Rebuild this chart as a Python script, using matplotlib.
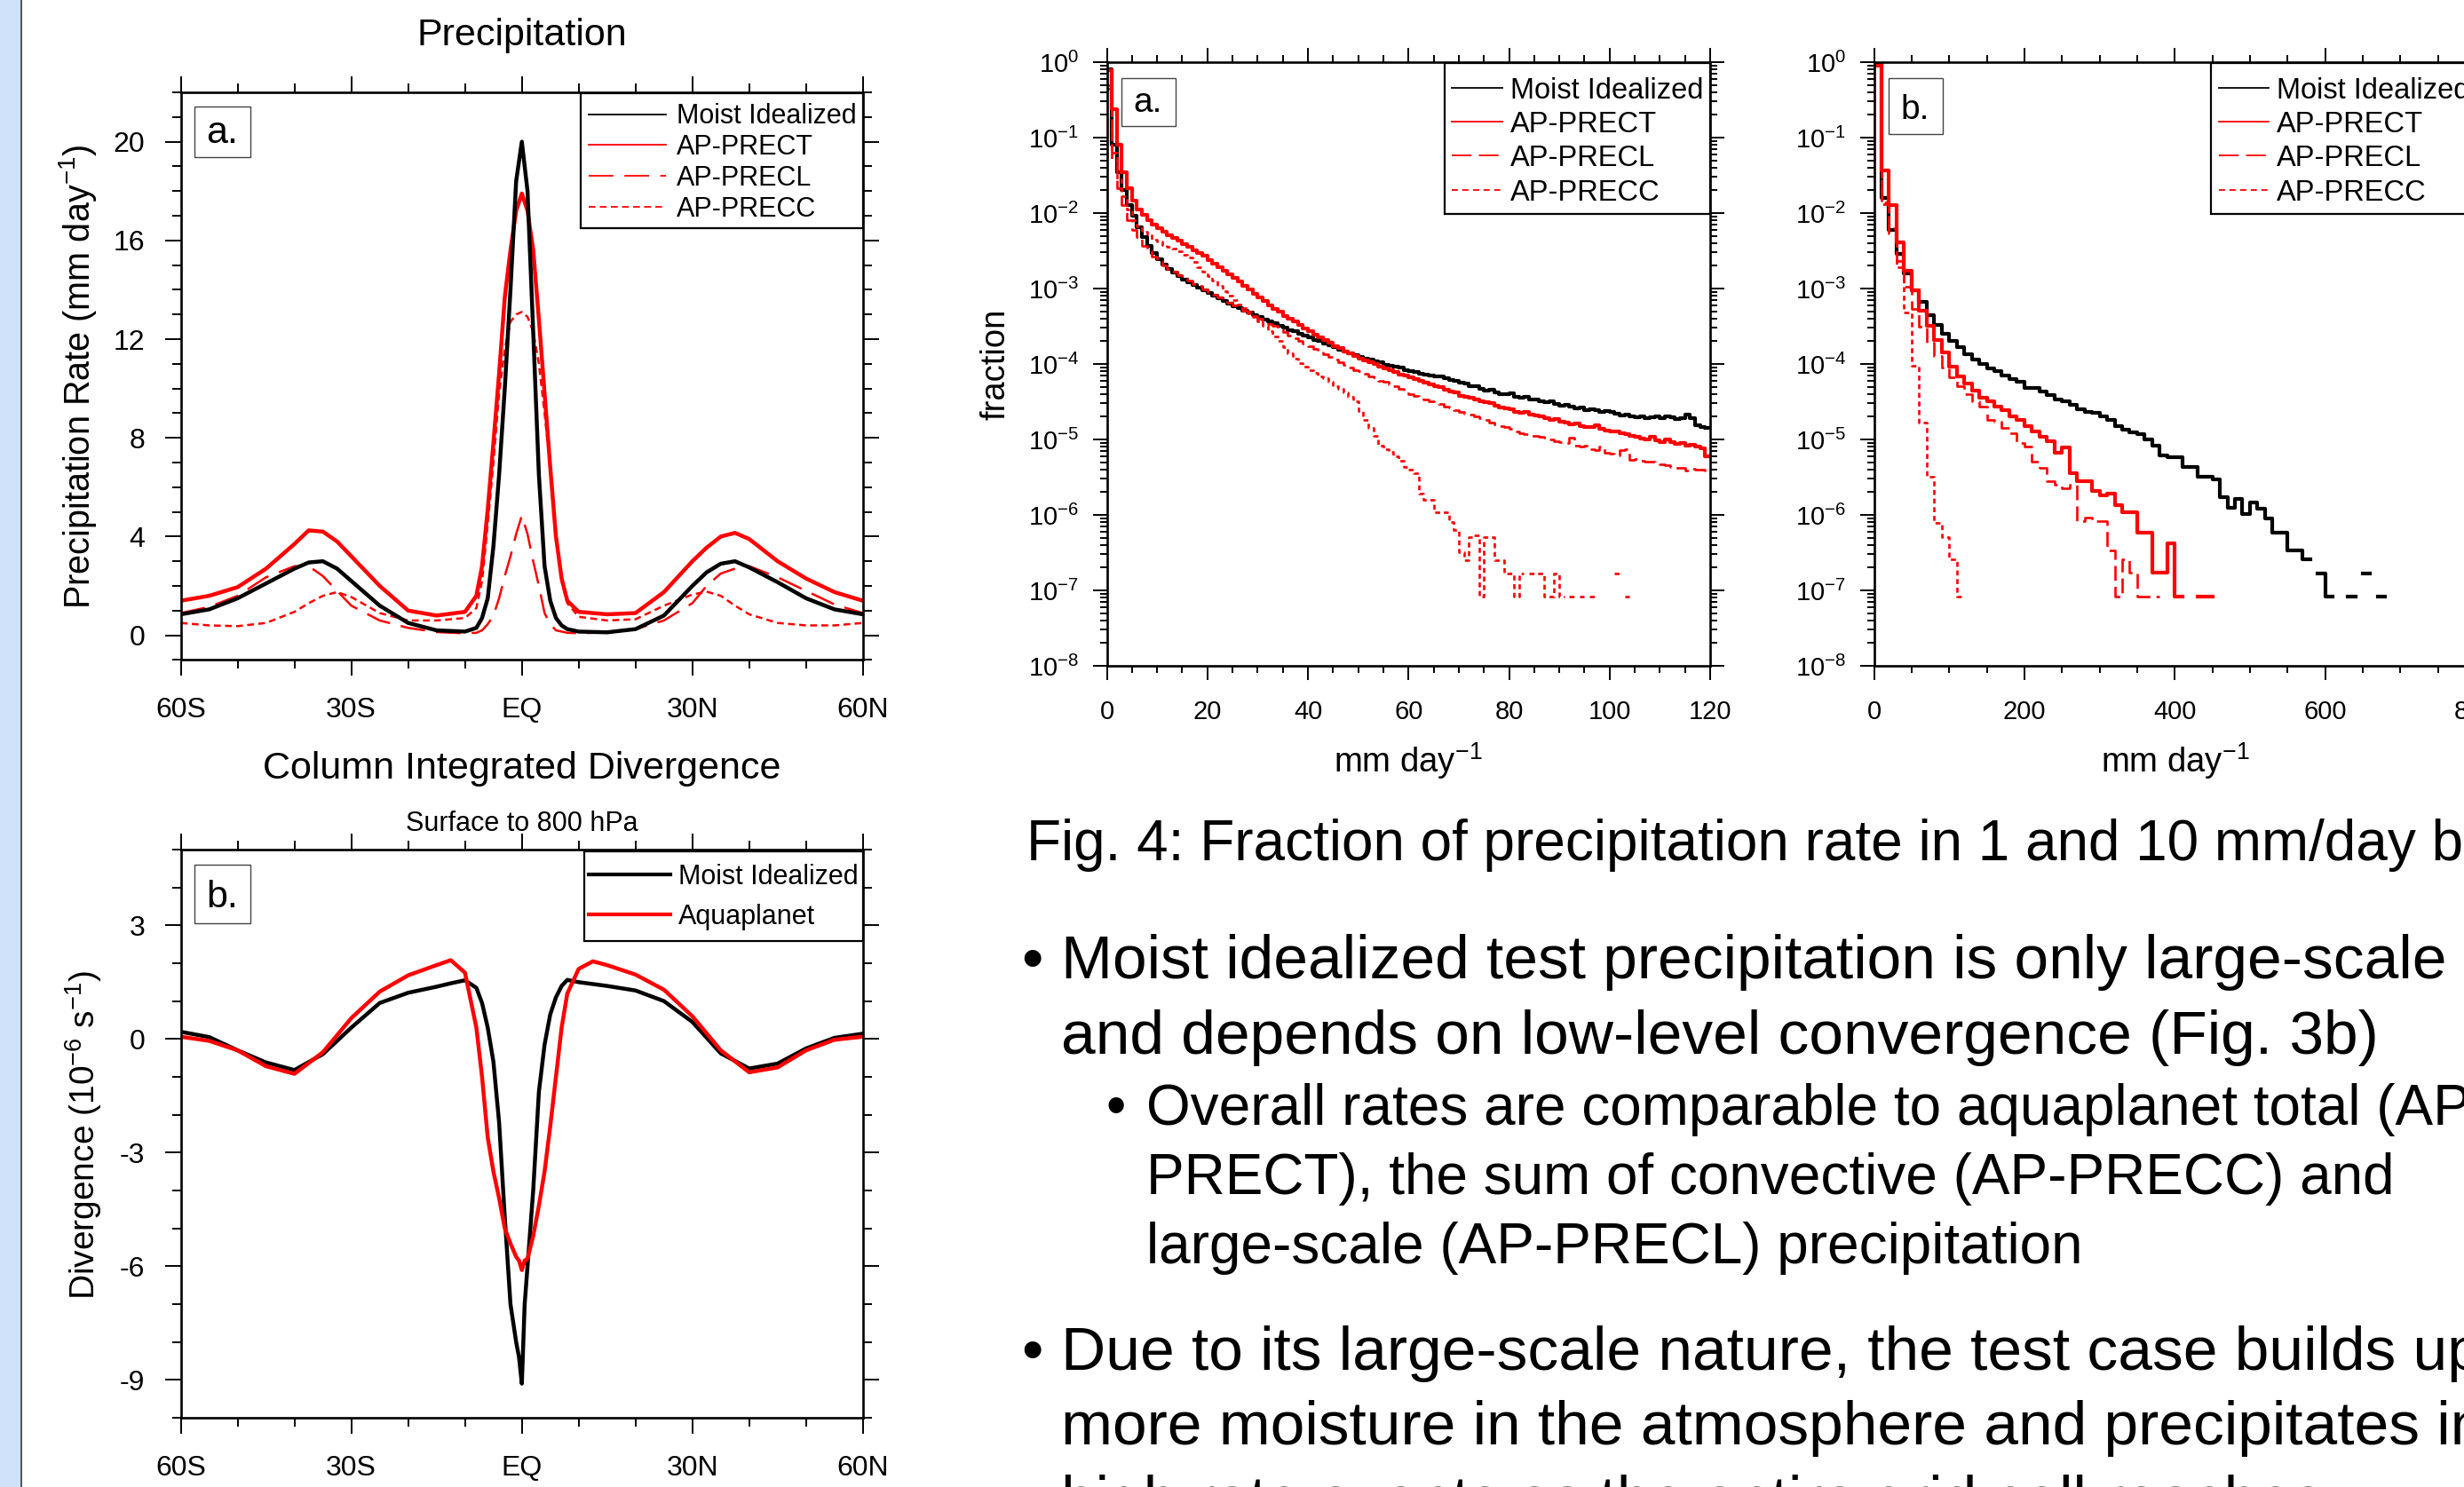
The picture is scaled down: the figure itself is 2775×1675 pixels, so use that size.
import numpy as np
import matplotlib
matplotlib.use("Agg")
import matplotlib.pyplot as plt
from matplotlib.lines import Line2D
from matplotlib.patches import Rectangle
from matplotlib.ticker import MultipleLocator, LogLocator, NullFormatter

plt.rcParams["font.family"] = ["Liberation Sans", "DejaVu Sans"]
plt.rcParams["mathtext.fontset"] = "custom"
plt.rcParams["mathtext.rm"] = "Liberation Sans"
plt.rcParams["mathtext.it"] = "Liberation Sans:italic"
plt.rcParams["mathtext.bf"] = "Liberation Sans:bold"
plt.rcParams["axes.unicode_minus"] = False
plt.rcParams["lines.scale_dashes"] = False
plt.rcParams["lines.solid_joinstyle"] = "round"

# ─────────────────────────────────────────────────────────────────────────────
# Zonal mean precipitation (mm/day)
lat_pr = [-60, -55, -50, -45, -40, -37.5, -35, -32.5, -30, -25, -20, -15, -10,
          -8, -7, -6, -5, -4, -3, -2, -1, 0, 1, 2, 3, 4, 5, 6, 7, 8,
          10, 15, 20, 25, 30, 32.5, 35, 37.5, 40, 45, 50, 55, 60]
pr_moist = [0.85, 1.05, 1.5, 2.1, 2.7, 2.95, 3.0, 2.7, 2.2, 1.2, 0.5, 0.2, 0.15,
            0.3, 0.7, 1.5, 3.6, 6.5, 10.0, 14.0, 18.4, 20.0, 18.0, 12.3, 6.5, 2.8, 1.4, 0.7, 0.4, 0.25,
            0.15, 0.12, 0.25, 0.8, 2.0, 2.55, 2.9, 3.0, 2.75, 2.15, 1.5, 1.05, 0.85]
pr_prect = [1.4, 1.6, 1.95, 2.7, 3.7, 4.25, 4.2, 3.8, 3.2, 2.0, 1.0, 0.8, 0.95,
            1.6, 2.8, 5.1, 7.8, 10.6, 13.7, 15.6, 17.2, 17.9, 17.2, 15.6, 12.8, 9.8, 6.8, 4.0, 2.3, 1.4,
            0.95, 0.85, 0.9, 1.75, 3.0, 3.55, 4.0, 4.15, 3.9, 3.0, 2.3, 1.75, 1.4]
pr_precl = [0.9, 1.15, 1.6, 2.35, 2.8, 2.8, 2.4, 1.8, 1.2, 0.6, 0.3, 0.13, 0.08,
            0.1, 0.2, 0.45, 0.8, 1.5, 2.4, 3.2, 4.1, 4.85, 4.1, 3.0, 2.0, 0.9, 0.45, 0.2, 0.15, 0.1,
            0.08, 0.12, 0.25, 0.6, 1.3, 2.0, 2.5, 2.7, 2.8, 2.35, 1.8, 1.25, 0.9]
pr_precc = [0.5, 0.4, 0.37, 0.5, 0.95, 1.3, 1.6, 1.75, 1.55, 0.9, 0.6, 0.6, 0.7,
            1.1, 2.2, 4.5, 7.0, 9.8, 11.6, 12.7, 13.0, 13.1, 12.9, 12.3, 11.0, 9.0, 6.8, 4.2, 2.2, 1.3,
            0.75, 0.6, 0.65, 1.2, 1.65, 1.77, 1.6, 1.2, 0.85, 0.5, 0.4, 0.4, 0.5]

# Column integrated divergence, surface to 800 hPa (1e-6 s-1)
lat_dv = [-60, -55, -50, -45, -40, -35, -30, -25, -20, -15, -12.5, -10, -8, -7, -6,
          -5, -4, -3, -2, -1, -0.5, 0, 0.5, 1, 2, 3, 4, 5, 6, 7, 8,
          10, 12.5, 15, 20, 25, 30, 35, 40, 45, 50, 55, 60]
dv_moist = [0.19, 0.05, -0.3, -0.62, -0.82, -0.4, 0.3, 0.95, 1.22, 1.38, 1.47, 1.55, 1.35, 0.95, 0.3,
            -0.6, -2.2, -4.7, -7.0, -8.0, -8.4, -9.1, -7.0, -6.0, -4.0, -1.4, -0.15, 0.65, 1.1, 1.4, 1.56,
            1.5, 1.45, 1.4, 1.28, 1.0, 0.45, -0.38, -0.78, -0.65, -0.25, 0.03, 0.14]
dv_aqua = [0.06, -0.05, -0.3, -0.72, -0.92, -0.35, 0.55, 1.25, 1.68, 1.95, 2.08, 1.75, 0.3, -1.0, -2.6,
           -3.5, -4.2, -5.0, -5.4, -5.75, -5.85, -6.1, -5.85, -5.8, -5.2, -4.4, -3.5, -2.3, -1.0, 0.3, 1.2,
           1.85, 2.05, 1.95, 1.7, 1.3, 0.6, -0.3, -0.88, -0.75, -0.3, -0.02, 0.06]

# Fraction of precipitation per 1 mm/day bin (log10 of fraction), bins 0..119
nan = np.nan
ha_moist = [-0.09, -1.09, -1.46, -1.69, -1.90, -2.04, -2.19, -2.32, -2.43, -2.53,
            -2.61, -2.68, -2.74, -2.79, -2.84, -2.88, -2.92, -2.95, -2.99, -3.02,
            -3.06, -3.09, -3.13, -3.16, -3.20, -3.23, -3.26, -3.29, -3.32, -3.35,
            -3.38, -3.41, -3.44, -3.46, -3.49, -3.52, -3.55, -3.57, -3.60, -3.62,
            -3.65, -3.68, -3.70, -3.73, -3.75, -3.78, -3.81, -3.83, -3.86, -3.88,
            -3.91, -3.93, -3.94, -3.97, -3.98, -4.01, -4.02, -4.04, -4.05, -4.08,
            -4.10, -4.11, -4.13, -4.14, -4.15, -4.17, -4.16, -4.19, -4.21, -4.22,
            -4.25, -4.26, -4.29, -4.29, -4.33, -4.35, -4.34, -4.38, -4.40, -4.40,
            -4.39, -4.43, -4.45, -4.44, -4.47, -4.47, -4.50, -4.51, -4.50, -4.53,
            -4.55, -4.54, -4.56, -4.59, -4.58, -4.61, -4.60, -4.61, -4.63, -4.62,
            -4.64, -4.66, -4.68, -4.67, -4.70, -4.71, -4.69, -4.72, -4.71, -4.70,
            -4.72, -4.69, -4.71, -4.73, -4.72, -4.67, -4.72, -4.81, -4.84, -4.85]
ha_prect = [-0.10, -0.62, -1.09, -1.46, -1.67, -1.83, -1.95, -2.02, -2.09, -2.15,
            -2.20, -2.25, -2.29, -2.33, -2.37, -2.41, -2.45, -2.49, -2.53, -2.57,
            -2.62, -2.67, -2.72, -2.76, -2.81, -2.86, -2.91, -2.96, -3.01, -3.07,
            -3.12, -3.17, -3.22, -3.27, -3.31, -3.36, -3.40, -3.44, -3.48, -3.53,
            -3.57, -3.61, -3.65, -3.68, -3.72, -3.76, -3.79, -3.83, -3.86, -3.89,
            -3.93, -3.95, -3.98, -4.00, -4.03, -4.06, -4.08, -4.11, -4.14, -4.15,
            -4.18, -4.20, -4.22, -4.25, -4.27, -4.30, -4.31, -4.34, -4.37, -4.38,
            -4.42, -4.44, -4.45, -4.47, -4.50, -4.51, -4.52, -4.55, -4.58, -4.59,
            -4.60, -4.64, -4.65, -4.64, -4.67, -4.68, -4.70, -4.72, -4.74, -4.73,
            -4.76, -4.78, -4.80, -4.79, -4.82, -4.84, -4.83, -4.81, -4.86, -4.88,
            -4.89, -4.90, -4.92, -4.93, -4.95, -4.96, -4.99, -5.00, -4.97, -5.01,
            -5.03, -5.00, -5.03, -5.06, -5.05, -5.08, -5.07, -5.10, -5.12, -5.22]
ha_precl = [-0.30, -1.30, -1.67, -1.90, -2.09, -2.22, -2.32, -2.43, -2.51, -2.58,
            -2.64, -2.69, -2.74, -2.78, -2.82, -2.86, -2.90, -2.94, -2.97, -3.01,
            -3.05, -3.08, -3.12, -3.15, -3.19, -3.22, -3.26, -3.29, -3.33, -3.36,
            -3.40, -3.43, -3.47, -3.50, -3.54, -3.58, -3.62, -3.66, -3.70, -3.73,
            -3.77, -3.80, -3.84, -3.87, -3.91, -3.94, -3.98, -4.01, -4.05, -4.08,
            -4.10, -4.13, -4.16, -4.18, -4.22, -4.24, -4.27, -4.30, -4.33, -4.36,
            -4.40, -4.42, -4.44, -4.47, -4.49, -4.51, -4.53, -4.56, -4.58, -4.61,
            -4.63, -4.66, -4.67, -4.70, -4.72, -4.74, -4.78, -4.80, -4.82, -4.83,
            -4.86, -4.89, -4.92, -4.93, -4.95, -4.95, -4.97, -4.98, -5.00, -5.02,
            -5.04, -5.05, -4.98, -5.08, -5.10, -5.08, -5.13, -5.14, -5.10, -5.18,
            -5.19, -5.21, -5.14, -5.13, -5.27, -5.26, -5.28, -5.29, -5.30, -5.32,
            -5.33, -5.34, -5.36, -5.38, -5.38, -5.41, -5.39, -5.40, -5.40, -5.45]
ha_precc = [-0.35, -1.20, -1.55, -1.78, -1.95, -2.09, -2.18, -2.25, -2.30, -2.35,
            -2.38, -2.42, -2.45, -2.47, -2.50, -2.55, -2.59, -2.65, -2.72, -2.78,
            -2.84, -2.90, -2.96, -3.03, -3.09, -3.15, -3.21, -3.26, -3.31, -3.38,
            -3.44, -3.50, -3.57, -3.63, -3.70, -3.78, -3.86, -3.93, -3.99, -4.04,
            -4.08, -4.12, -4.16, -4.19, -4.24, -4.29, -4.33, -4.38, -4.43, -4.50,
            -4.62, -4.74, -4.85, -4.95, -5.08, -5.13, -5.16, -5.22, -5.28, -5.37,
            -5.40, -5.45, -5.72, -5.80, -5.80, -5.97, -5.97, -5.97, -6.10, -6.20,
            -6.50, -6.60, -6.30, -6.27, -7.08, -6.29, -6.29, -6.60, -6.60, -6.78,
            -6.78, -7.08, -6.78, nan, -6.78, -6.78, -6.78, -7.08, -7.08, -6.78,
            -7.08, nan, -7.08, nan, -7.08, nan, -7.08, nan, nan, nan,
            nan, -6.78, nan, -7.08, nan, nan, nan, nan, nan, nan,
            nan, nan, nan, nan, nan, nan, nan, nan, nan, nan]

# Fraction of precipitation per 10 mm/day bin (log10 of fraction)
hb_moist = [-0.01, -1.80, -2.22, -2.54, -2.80, -3.02, -3.18, -3.35, -3.48, -3.60,
            -3.69, -3.78, -3.87, -3.94, -4.00, -4.06, -4.10, -4.15, -4.20, -4.24,
            -4.32, -4.32, -4.36, -4.41, -4.47, -4.50, -4.54, -4.60, -4.64, -4.65,
            -4.69, -4.74, -4.82, -4.87, -4.91, -4.93, -5.00, -5.08, -5.21, -5.24,
            -5.24, -5.37, -5.37, -5.49, -5.49, -5.53, -5.77, -5.90, -5.79, -5.99,
            -5.84, -5.92, -6.05, -6.24, -6.24, -6.47, -6.47, -6.59, nan, -6.78,
            -7.08, nan, nan, -7.08, nan, -6.78, nan, -7.08]
hb_prect = [-0.01, -1.43, -1.90, -2.39, -2.76, -3.02, -3.30, -3.50, -3.68, -3.85,
            -4.03, -4.16, -4.26, -4.35, -4.45, -4.50, -4.56, -4.61, -4.70, -4.74,
            -4.82, -4.90, -4.97, -5.02, -5.18, -5.11, -5.45, -5.55, -5.55, -5.68,
            -5.74, -5.72, -5.87, -5.97, -5.97, -6.24, -6.24, -6.77, -6.77, -6.38,
            -7.08, nan, nan, -7.08, -7.08]
hb_precl = [-0.05, -1.86, -2.27, -2.64, -2.98, -3.27, -3.51, -3.72, -3.90, -4.05,
            -4.18, -4.30, -4.40, -4.50, -4.56, -4.74, -4.76, -4.85, -4.92, -5.05,
            -5.10, -5.30, -5.38, -5.55, -5.60, -5.65, -5.60, -6.08, -6.03, -6.08,
            -6.08, -6.47, -7.08, -6.59, -6.76, -7.08, -7.08, -7.08]
hb_precc = [-0.05, -1.88, -2.20, -2.72, -3.32, -4.02, -4.78, -5.49, -6.11, -6.30,
            -6.59, -7.08]

lat_ticks = [-60, -30, 0, 30, 60]
lat_ticklabels = ["60S", "30S", "EQ", "30N", "60N"]
frac_ticks = [1e0, 1e-1, 1e-2, 1e-3, 1e-4, 1e-5, 1e-6, 1e-7, 1e-8]
frac_ticklabels = ["$10^{0}$", "$10^{-1}$", "$10^{-2}$", "$10^{-3}$", "$10^{-4}$",
                   "$10^{-5}$", "$10^{-6}$", "$10^{-7}$", "$10^{-8}$"]
names_pr = ["Moist Idealized", "AP-PRECT", "AP-PRECL", "AP-PRECC"]
names_dv = ["Moist Idealized", "Aquaplanet"]

# ─────────────────────────────────────────────────────────────────────────────
W, H = 2775, 1675
PT = 100 / 72.0          # pixels per point

fig = plt.figure(figsize=(W / 100, H / 100), dpi=100)
fig.patch.set_facecolor("white")


def fx(x):
    return x / W


def fy(y):
    return 1 - y / H


def rect(l, t, r, b):
    return [fx(l), fy(b), (r - l) / W, (b - t) / H]


def ftext(x, y, s, fs, **kw):
    """Text with baseline at pixel y (from the top)."""
    kw.setdefault("va", "baseline")
    return fig.text(fx(x), fy(y), s, fontsize=fs, **kw)


def frame(ax, maj, mino, lsize, xpad, ypad):
    for s in ax.spines.values():
        s.set_linewidth(1.9)
    ax.tick_params(which="both", direction="out", top=True, right=True, width=1.4,
                   labelsize=lsize)
    ax.tick_params(which="major", length=maj)
    ax.tick_params(which="minor", length=mino)
    ax.tick_params(axis="x", which="major", pad=xpad)
    ax.tick_params(axis="y", which="major", pad=ypad)


def label_box(l, t, r, b, s, tx, ty, fs):
    fig.add_artist(Rectangle((fx(l), fy(b)), (r - l) / W, (b - t) / H,
                             transform=fig.transFigure, facecolor="white",
                             edgecolor="#444444", lw=1.0, zorder=5))
    ftext(tx, ty, s, fs, zorder=6)


def legend(l, t, r, b, rows, x0, x1, xt, ys, fs):
    fig.add_artist(Rectangle((fx(l), fy(b)), (r - l) / W, (b - t) / H,
                             transform=fig.transFigure, facecolor="white",
                             edgecolor="black", lw=1.6, zorder=5))
    for (name, style), y in zip(rows, ys):
        fig.add_artist(Line2D([fx(x0), fx(x1)], [fy(y), fy(y)],
                              transform=fig.transFigure, zorder=6, **style))
        ftext(xt, y + 0.358 * fs * PT, name, fs, zorder=6)


def hist_steps(ax, vals_log, width, **kw):
    y = 10.0 ** np.asarray(vals_log, dtype=float)
    edges = np.arange(len(y) + 1) * width
    ax.step(edges, np.append(y, y[-1]), where="post", **kw)


# left strip of the poster column
fig.add_artist(Rectangle((0, 0), fx(22.5), 1, transform=fig.transFigure,
                         facecolor="#cfe2f9", edgecolor="none", zorder=0))
fig.add_artist(Line2D([fx(23.5), fx(23.5)], [0, 1], transform=fig.transFigure,
                      color="#222222", lw=1.1, zorder=1))

# ── Precipitation ───────────────────────────────────────────────────────────
ax_pr = fig.add_axes(rect(203.6, 104, 971.8, 743.4))
ax_pr.plot(lat_pr, pr_prect, color="red", lw=3.2)
ax_pr.plot(lat_pr, pr_precl, color="red", lw=1.8, dashes=(20, 9))
ax_pr.plot(lat_pr, pr_precc, color="red", lw=1.8, dashes=(5.5, 3.5))
ax_pr.plot(lat_pr, pr_moist, color="black", lw=3.2)
ax_pr.set_xlim(-60, 60)
ax_pr.set_ylim(-1, 22)
ax_pr.set_xticks(lat_ticks)
ax_pr.set_xticklabels(lat_ticklabels)
ax_pr.set_yticks([0, 4, 8, 12, 16, 20])
ax_pr.xaxis.set_minor_locator(MultipleLocator(10))
ax_pr.yaxis.set_minor_locator(MultipleLocator(1))
frame(ax_pr, 13, 7, 23, 17, 16)

ftext(587.7, 51, "Precipitation", 31, ha="center")
fig.text(fx(88), fy(424), "Precipitation Rate (mm day$^{-1}$)", fontsize=28.5,
         rotation=90, ha="center", va="center")
label_box(219, 120, 282, 177, "a.", 232, 161, 31)
legend(654, 105, 972, 257,
       [(names_pr[0], dict(color="black", lw=1.3)),
        (names_pr[1], dict(color="red", lw=1.3)),
        (names_pr[2], dict(color="red", lw=1.3, dashes=(20, 9))),
        (names_pr[3], dict(color="red", lw=1.3, dashes=(5.5, 3.5)))],
       663, 750, 762, [128.5, 163, 198, 233], 22)

# ── Divergence ──────────────────────────────────────────────────────────────
ax_dv = fig.add_axes(rect(203.6, 957, 971.8, 1597))
ax_dv.plot(lat_dv, dv_moist, color="black", lw=3.2)
ax_dv.plot(lat_dv, dv_aqua, color="red", lw=3.2)
ax_dv.set_xlim(-60, 60)
ax_dv.set_ylim(-10, 5)
ax_dv.set_xticks(lat_ticks)
ax_dv.set_xticklabels(lat_ticklabels)
ax_dv.set_yticks([-9, -6, -3, 0, 3])
ax_dv.xaxis.set_minor_locator(MultipleLocator(10))
ax_dv.yaxis.set_minor_locator(MultipleLocator(1))
frame(ax_dv, 13, 7, 23, 17, 16)

ftext(587.7, 877, "Column Integrated Divergence", 31, ha="center")
ftext(587.7, 936, "Surface to 800 hPa", 22, ha="center")
fig.text(fx(94), fy(1278), "Divergence (10$^{-6}$ s$^{-1}$)", fontsize=28,
         rotation=90, ha="center", va="center")
label_box(219, 974, 282, 1040, "b.", 232, 1022, 31)
legend(658, 959, 972, 1060,
       [(names_dv[0], dict(color="black", lw=3.0)),
        (names_dv[1], dict(color="red", lw=3.0))],
       663, 755, 764, [985, 1030], 22)

# ── Histograms ──────────────────────────────────────────────────────────────
hist_styles = [dict(color="black", lw=3.0),
               dict(color="red", lw=3.0),
               dict(color="red", lw=1.9, dashes=(12, 5)),
               dict(color="red", lw=1.9, dashes=(4, 3))]
leg_styles = [dict(color="black", lw=1.3),
              dict(color="red", lw=1.3),
              dict(color="red", lw=1.3, dashes=(16, 6)),
              dict(color="red", lw=1.3, dashes=(5, 3.6))]

ax_ha = fig.add_axes(rect(1246.5, 70, 1926, 750))
ax_hb = fig.add_axes(rect(2110.5, 70, 2788, 750))
for ax, series, width, xmax, xmaj, xmin in [
        (ax_ha, [ha_moist, ha_prect, ha_precl, ha_precc], 1, 120, 20, 5),
        (ax_hb, [hb_moist, hb_prect, hb_precl, hb_precc], 10, 800, 200, 50)]:
    for vals, st in zip(series, hist_styles):
        hist_steps(ax, vals, width, **st)
    ax.set_yscale("log")
    ax.set_ylim(1e-8, 1e0)
    ax.set_xlim(0, xmax)
    ax.set_yticks(frac_ticks)
    ax.set_yticklabels(frac_ticklabels)
    ax.yaxis.set_minor_locator(LogLocator(base=10, subs=np.arange(2, 10), numticks=30))
    ax.yaxis.set_minor_formatter(NullFormatter())
    ax.xaxis.set_major_locator(MultipleLocator(xmaj))
    ax.xaxis.set_minor_locator(MultipleLocator(xmin))
    frame(ax, 11.5, 5.8, 21, 16, 11)

fig.text(fx(1122), fy(410), "fraction", fontsize=27.5, rotation=90,
         ha="center", va="center")
ftext(1586, 870, "mm day$^{-1}$", 27.5, ha="center")
ftext(2449.5, 870, "mm day$^{-1}$", 27.5, ha="center")

label_box(1263, 88, 1324, 142, "a.", 1276, 126, 28)
label_box(2127, 88, 2188, 151, "b.", 2140, 134, 28)
legend(1627, 71, 1926, 241, list(zip(names_pr, leg_styles)),
       1635, 1692, 1701, [99, 137, 175, 214], 23.5)
legend(2489.5, 71, 2800, 241, list(zip(names_pr, leg_styles)),
       2499, 2555, 2564, [99, 137, 175, 214], 23.5)

# ── Text block ──────────────────────────────────────────────────────────────
ftext(1156, 969, "Fig. 4: Fraction of precipitation rate in 1 and 10 mm/day bins", 46)

ftext(1150, 1102, "\u2022", 50)
ftext(1195, 1102, "Moist idealized test precipitation is only large-scale", 50)
ftext(1195, 1187, "and depends on low-level convergence (Fig. 3b)", 50)

ftext(1245, 1267, "\u2022", 46)
ftext(1291, 1267, "Overall rates are comparable to aquaplanet total (AP-", 46)
ftext(1291, 1345, "PRECT), the sum of convective (AP-PRECC) and", 46)
ftext(1291, 1423, "large-scale (AP-PRECL) precipitation", 46)

ftext(1150, 1543, "\u2022", 50)
ftext(1195, 1543, "Due to its large-scale nature, the test case builds up", 50)
ftext(1195, 1627, "more moisture in the atmosphere and precipitates in", 50)
ftext(1195, 1711, "high rate events as the entire grid cell reaches", 50)

fig.savefig("out.png", dpi=100, facecolor="white")
